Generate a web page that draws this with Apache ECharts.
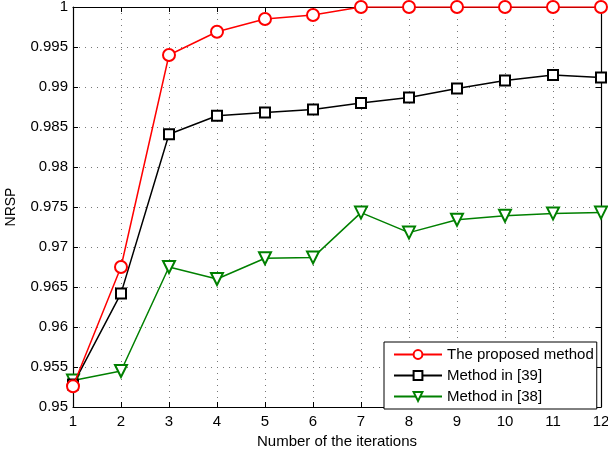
<!DOCTYPE html>
<html>
<head>
<meta charset="utf-8">
<script src="https://cdn.jsdelivr.net/npm/echarts@6/dist/echarts.min.js"></script>
<style>
  html, body { margin: 0; padding: 0; background: #fff; }
  #chart { width: 608px; height: 449px; }
</style>
</head>
<body>
<div id="chart"></div>
<script>
// Iteration numbers on the horizontal axis
const iterations = [1, 2, 3, 4, 5, 6, 7, 8, 9, 10, 11, 12];

// NRSP per iteration for each method
const proposedMethod = [0.9526, 0.9675, 0.9940, 0.9969, 0.9985, 0.9990, 1.0000, 1.0000, 1.0000, 1.0000, 1.0000, 1.0000];
const method39 = [0.9528, 0.9642, 0.9841, 0.9864, 0.9868, 0.9872, 0.9880, 0.9887, 0.9898, 0.9908, 0.9915, 0.9912];
const method38 = [0.9533, 0.9545, 0.9675, 0.9660, 0.9686, 0.9687, 0.9743, 0.9718, 0.9734, 0.9739, 0.9742, 0.9743];

const seriesNames = ['The proposed method', 'Method in [39]', 'Method in [38]'];

const FONT = 'Liberation Sans, Arial, sans-serif';

function pairs(values) {
  return iterations.map((x, i) => [x, values[i]]);
}

const chart = echarts.init(document.getElementById('chart'), null, { renderer: 'canvas' });

const gridLine = { show: true, lineStyle: { color: '#777', type: [1, 5], width: 1 } };
const boxLine = { show: true, onZero: false, lineStyle: { color: '#000', width: 1.2 } };
const tickIn = { show: true, inside: true, length: 5, lineStyle: { color: '#000', width: 1 } };

chart.setOption({
  animation: false,
  backgroundColor: '#fff',
  grid: { left: 73, right: 7, top: 7, bottom: 42, containLabel: false, outerBoundsMode: 'none' },
  xAxis: [
    {
      type: 'value', min: 1, max: 12, interval: 1, position: 'bottom',
      name: 'Number of the iterations', nameLocation: 'middle', nameGap: 24,
      nameTextStyle: { fontFamily: FONT, fontSize: 15, color: '#000' },
      axisLine: boxLine, axisTick: tickIn,
      axisLabel: { fontFamily: FONT, fontSize: 15, color: '#000', margin: 7 },
      splitLine: gridLine
    },
    {
      type: 'value', min: 1, max: 12, interval: 1, position: 'top',
      axisLine: boxLine, axisTick: tickIn, axisLabel: { show: false }, splitLine: { show: false }
    }
  ],
  yAxis: [
    {
      type: 'value', min: 0.95, max: 1, interval: 0.005, position: 'left',
      name: 'NRSP', nameLocation: 'middle', nameGap: 55, nameRotate: 90,
      nameTextStyle: { fontFamily: FONT, fontSize: 14, color: '#000' },
      axisLine: boxLine, axisTick: tickIn,
      axisLabel: {
        fontFamily: FONT, fontSize: 15, color: '#000', margin: 5,
        formatter: v => String(+v.toFixed(3))
      },
      splitLine: gridLine
    },
    {
      type: 'value', min: 0.95, max: 1, interval: 0.005, position: 'right',
      axisLine: boxLine, axisTick: tickIn, axisLabel: { show: false }, splitLine: { show: false }
    }
  ],
  legend: {
    orient: 'vertical',
    left: 384, top: 342,
    width: 200,
    padding: [5, 3, 5, 9],
    itemGap: 6,
    itemWidth: 48,
    itemHeight: 11,
    borderColor: '#000',
    borderWidth: 1,
    backgroundColor: '#fff',
    textStyle: { fontFamily: FONT, fontSize: 15, color: '#000' },
    data: seriesNames
  },
  series: [
    {
      name: seriesNames[0], type: 'line', data: pairs(proposedMethod),
      symbol: 'emptyCircle', symbolSize: 12,
      lineStyle: { color: '#ff0000', width: 1.5 },
      itemStyle: { color: '#ff0000', borderColor: '#ff0000', borderWidth: 1.4 },
      z: 3
    },
    {
      name: seriesNames[1], type: 'line', data: pairs(method39),
      symbol: 'emptyRect', symbolSize: 10,
      lineStyle: { color: '#000', width: 1.5 },
      itemStyle: { color: '#000', borderColor: '#000', borderWidth: 1.4 },
      z: 2
    },
    {
      name: seriesNames[2], type: 'line', data: pairs(method38),
      symbol: 'emptyTriangle', symbolSize: 12, symbolRotate: 180,
      lineStyle: { color: '#008000', width: 1.5 },
      itemStyle: { color: '#008000', borderColor: '#008000', borderWidth: 1.4 },
      z: 1
    }
  ]
});
</script>
</body>
</html>
